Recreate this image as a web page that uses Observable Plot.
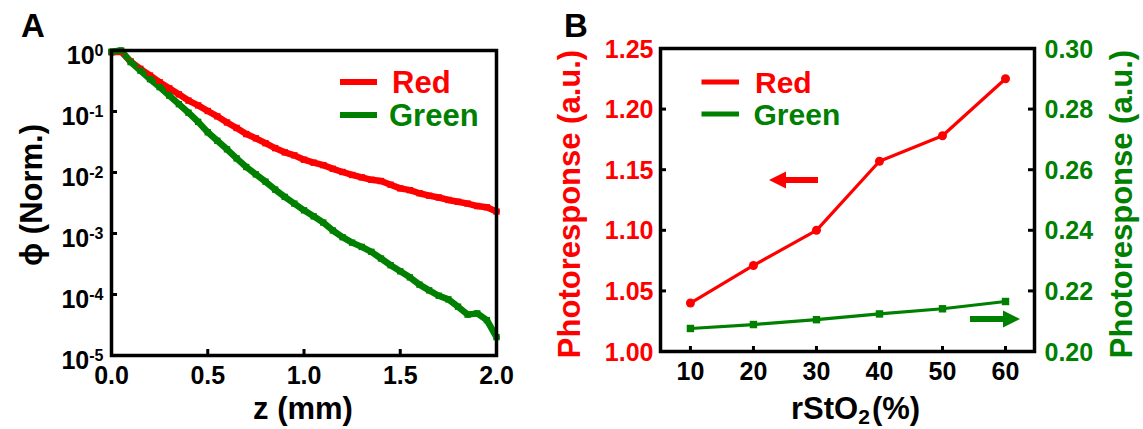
<!DOCTYPE html>
<html><head><meta charset="utf-8">
<script src="https://cdn.jsdelivr.net/npm/d3@7"></script>
<script src="https://cdn.jsdelivr.net/npm/@observablehq/plot@0.6"></script>
<style>
body{margin:0;background:#fff;}
#wrap{position:relative;width:1143px;height:429px;overflow:hidden;}
#a{position:absolute;left:0;top:0;}
#b{position:absolute;left:540px;top:0;}
svg{overflow:visible;}
</style></head><body><div id="wrap"><div id="a"></div><div id="b"></div></div>
<script>
// ---------- Panel A data ----------
const depth = [0,0.05,0.1,0.15,0.2,0.25,0.3,0.35,0.4,0.45,0.5,0.55,0.6,0.65,0.7,0.75,0.8,0.85,0.9,0.95,1.0,1.05,1.1,1.15,1.2,1.25,1.3,1.35,1.4,1.45,1.5,1.55,1.6,1.65,1.7,1.75,1.8,1.85,1.9,1.95,2.0];
const phiRed = [0.933,0.955,0.661,0.501,0.389,0.302,0.240,0.191,0.151,0.126,0.102,0.0832,0.0661,0.0537,0.0427,0.0363,0.0302,0.0251,0.0214,0.0191,0.0162,0.0145,0.0132,0.0115,0.0102,0.00912,0.00832,0.00759,0.00724,0.00631,0.00550,0.00513,0.00457,0.00417,0.00389,0.00355,0.00331,0.00309,0.00282,0.00269,0.00229];
const phiGreen = [0.955,1.0,0.646,0.468,0.339,0.251,0.182,0.132,0.0955,0.0676,0.0457,0.0331,0.0240,0.0170,0.0123,0.00933,0.00708,0.00525,0.00398,0.00309,0.00240,0.00191,0.00151,0.00112,0.000871,0.000708,0.000603,0.000501,0.000389,0.000302,0.000240,0.000191,0.000145,0.000117,0.0000955,0.0000832,0.0000631,0.0000468,0.0000490,0.0000380,0.0000200];
const xTicksA = [0,0.5,1.0,1.5,2.0];
const yTicksA = [1,1e-1,1e-2,1e-3,1e-4,1e-5];

// ---------- Panel B data ----------
const rsto2 = [10,20,30,40,50,60];
const respRed = [1.040,1.071,1.100,1.157,1.178,1.225];
const respGreen = [0.2076,0.2089,0.2105,0.2124,0.2141,0.2165];
const leftTicksB = [1.00,1.05,1.10,1.15,1.20,1.25];
const rightTicksB = [0.20,0.22,0.24,0.26,0.28,0.30];

const seriesNames = ["Red","Green"];
const colors = {Red:"#ff0000", Green:"#008000"};
const FONT = "'Liberation Sans', Arial, Helvetica, sans-serif";

function txt(svg, o) {
  const t = d3.select(svg).append("text")
    .attr("font-family", FONT).attr("font-weight", "bold")
    .attr("font-size", o.size).attr("fill", o.fill || "#000")
    .attr("text-anchor", o.anchor || "start");
  if (o.rotate) t.attr("transform", `translate(${o.x},${o.y}) rotate(${o.rotate})`);
  else t.attr("x", o.x).attr("y", o.y);
  return t;
}

// ================= Panel A =================
const W_A = 520, H = 429;
const mA = {left:111, right:24, top:50, bottom:74};
const innerWA = W_A - mA.left - mA.right;
const innerHA = H - mA.top - mA.bottom;
const dataA = seriesNames.flatMap(s => depth.map((z, i) => ({z, phi: (s === "Red" ? phiRed : phiGreen)[i], s})));

const plotA = Plot.plot({
  width: W_A, height: H,
  marginLeft: mA.left, marginRight: mA.right, marginTop: mA.top, marginBottom: mA.bottom,
  style: `font-family:${FONT};font-weight:bold;font-size:25px;color:#000;background:transparent;overflow:visible;`,
  x: {domain: [0, 2]},
  y: {type: "log", domain: [1e-5, 1]},
  color: {type: "identity"},
  marks: [
    Plot.line(dataA, {x: "z", y: "phi", z: "s", stroke: d => colors[d.s], strokeWidth: 6.5, strokeLinejoin: "round"}),
    Plot.dot(dataA, {x: "z", y: "phi", fill: d => colors[d.s], symbol: "square", r: 3.6}),
    Plot.frame({strokeWidth: 3.5, stroke: "#000"}),
    Plot.tickX(xTicksA.slice(1, -1), {x: d => d, insetTop: innerHA - 6, strokeWidth: 3, stroke: "#000"}),
    Plot.tickY(yTicksA.slice(1, -1), {y: d => d, insetRight: innerWA - 6, strokeWidth: 3, stroke: "#000"}),
    Plot.axisX({ticks: xTicksA, tickSize: 0, tickPadding: 11, tickFormat: d3.format(".1f"), label: null, fontSize: 25}),
    Plot.axisY({ticks: yTicksA, tickSize: 0, tickPadding: 8, tickFormat: d => String(Math.round(Math.log10(d))), label: null, fontSize: 25, dy: 5})
  ]
});
document.getElementById("a").appendChild(plotA);
d3.select(plotA).selectAll('g[aria-label="y-axis tick label"] text').each(function() {
  const e = this.textContent;
  this.textContent = "10";
  d3.select(this).append("tspan").attr("dy", "-0.5em").attr("font-size", "16px").text(e);
});
// titles & labels A
txt(plotA, {x: 21, y: 37, size: "33px"}).text("A");
txt(plotA, {x: 303, y: 419, size: "31px", anchor: "middle"}).text("z (mm)");
txt(plotA, {x: 42, y: 195, size: "31px", anchor: "middle", rotate: -90}).text("ϕ (Norm.)");
// legend A
seriesNames.forEach((s, i) => {
  const yy = 82 + i * 33;
  d3.select(plotA).append("line").attr("x1", 340).attr("x2", 377).attr("y1", yy).attr("y2", yy)
    .attr("stroke", colors[s]).attr("stroke-width", 6);
  txt(plotA, {x: i ? 389 : 392, y: yy + 11, size: "31px", fill: colors[s]}).text(s);
});

// ================= Panel B =================
const W_B = 603;
const mB = {left:120, right:109, top:48, bottom:78};
const innerWB = W_B - mB.left - mB.right;
const innerHB = H - mB.top - mB.bottom;
const toLeft = g => 1 + (g - 0.2) * 2.5;
const toRight = v => (v - 1) / 2.5 + 0.2;
const dataBRed = rsto2.map((x, i) => ({x, y: respRed[i]}));
const dataBGreen = rsto2.map((x, i) => ({x, y: toLeft(respGreen[i])}));

const plotB = Plot.plot({
  width: W_B, height: H,
  marginLeft: mB.left, marginRight: mB.right, marginTop: mB.top, marginBottom: mB.bottom,
  style: `font-family:${FONT};font-weight:bold;font-size:25px;color:#000;background:transparent;overflow:visible;`,
  x: {domain: [5.25, 64.6]},
  y: {domain: [1.0, 1.25]},
  marks: [
    Plot.line(dataBRed, {x: "x", y: "y", stroke: colors.Red, strokeWidth: 3.2}),
    Plot.dot(dataBRed, {x: "x", y: "y", fill: colors.Red, r: 4.5, symbol: "circle"}),
    Plot.line(dataBGreen, {x: "x", y: "y", stroke: colors.Green, strokeWidth: 3.2}),
    Plot.dot(dataBGreen, {x: "x", y: "y", fill: colors.Green, r: 4.2, symbol: "square"}),
    Plot.frame({strokeWidth: 3.5, stroke: "#000"}),
    Plot.tickX(rsto2, {x: d => d, insetTop: innerHB - 5, strokeWidth: 3, stroke: "#000"}),
    Plot.tickY(leftTicksB.slice(1, -1), {y: d => d, insetRight: innerWB - 6, strokeWidth: 3, stroke: "#000"}),
    Plot.tickY(rightTicksB.slice(1, -1), {y: d => toLeft(d), insetLeft: innerWB - 6, strokeWidth: 3, stroke: "#000"}),
    Plot.axisX({ticks: rsto2, tickSize: 0, tickPadding: 11, tickFormat: d => String(d), label: null, fontSize: 25}),
    Plot.axisY({anchor: "left", ticks: leftTicksB, tickSize: 0, tickPadding: 7, tickFormat: d3.format(".2f"), label: null, fill: colors.Red, fontSize: 25, dy: 1}),
    Plot.axisY({anchor: "right", ticks: rightTicksB.map(toLeft), tickSize: 0, tickPadding: 10, tickFormat: v => toRight(v).toFixed(2), label: null, fill: colors.Green, fontSize: 25, dy: 1})
  ]
});
document.getElementById("b").appendChild(plotB);
txt(plotB, {x: 24, y: 37, size: "33px"}).text("B");
// left / right titles
txt(plotB, {x: 40, y: 204, size: "31px", anchor: "middle", fill: colors.Red, rotate: -90}).text("Photoresponse (a.u.)");
txt(plotB, {x: 592, y: 204, size: "31px", anchor: "middle", fill: colors.Green, rotate: -90}).text("Photoresponse (a.u.)");
// x title with subscript
{
  const t = txt(plotB, {x: 251, y: 419, size: "31px"});
  t.append("tspan").text("rStO");
  t.append("tspan").attr("font-size", "21px").attr("dy", 5).text("2");
  t.append("tspan").attr("dy", -5).attr("dx", 2).text("(%)");
}
// legend B
seriesNames.forEach((s, i) => {
  const yy = 82 + i * 32;
  d3.select(plotB).append("line").attr("x1", 161.5).attr("x2", 199).attr("y1", yy).attr("y2", yy)
    .attr("stroke", colors[s]).attr("stroke-width", 5);
  txt(plotB, {x: i ? 213.5 : 215, y: yy + 11, size: "30px", fill: colors[s]}).text(s);
});
// direction arrows
function arrow(svg, xTail, xTip, y, color) {
  const dir = Math.sign(xTip - xTail);
  const hl = 17, hw = 8.5, sw = 3;
  const xb = xTip - dir * hl;
  const p = `M${xTail},${y - sw} L${xb},${y - sw} L${xb},${y - hw} L${xTip},${y} L${xb},${y + hw} L${xb},${y + sw} L${xTail},${y + sw} Z`;
  d3.select(svg).append("path").attr("d", p).attr("fill", color);
}
arrow(plotB, 278, 229, 180, colors.Red);
arrow(plotB, 430, 480, 319, colors.Green);
</script></body></html>
